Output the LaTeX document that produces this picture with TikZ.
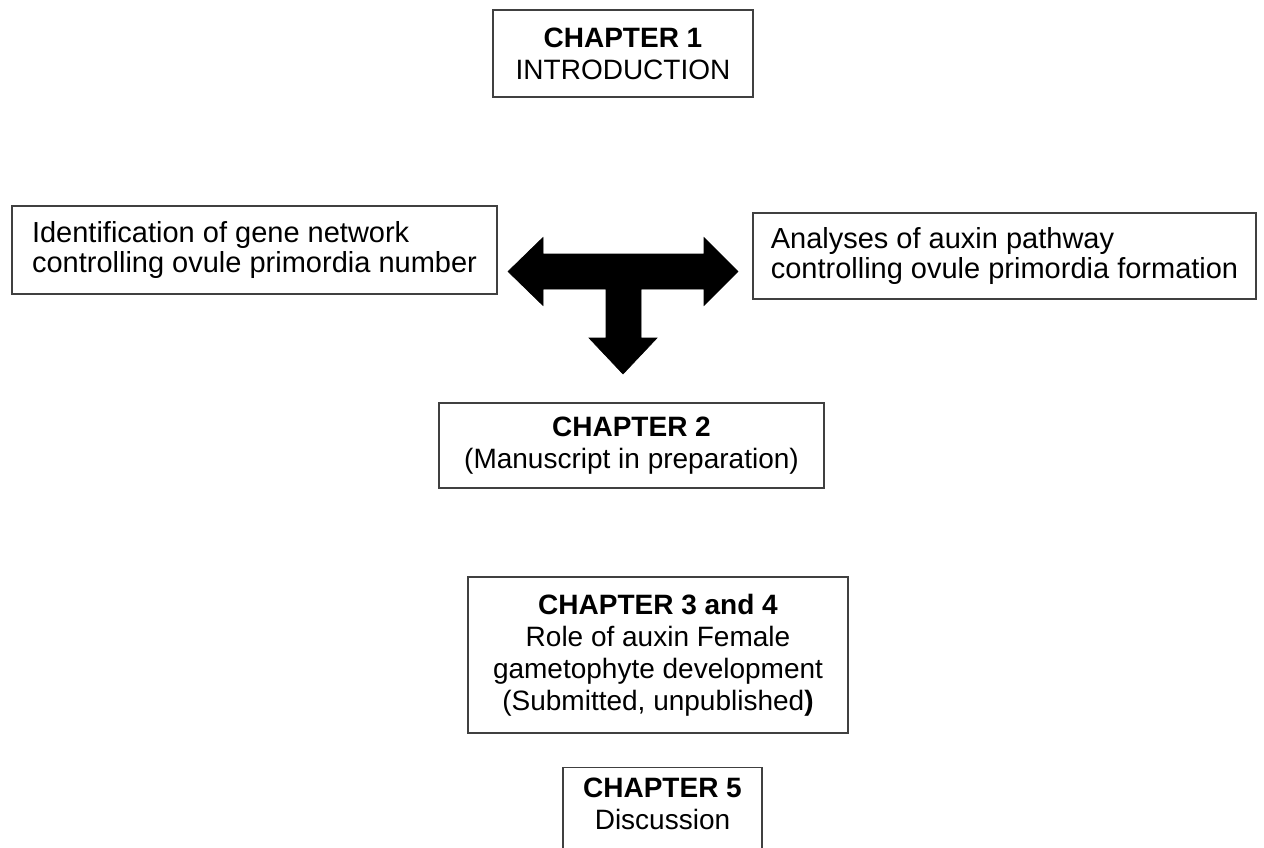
\documentclass[tikz,border=0pt]{standalone}
\usepackage{fontspec}
\setmainfont{Liberation Sans}
\usetikzlibrary{positioning}

\tikzset{
  chbox/.style={draw=black!75, line width=1.3pt, inner sep=0pt, align=center,
    font=\fontsize{28}{32}\selectfont},
  sidebox/.style={draw=black!75, line width=1.3pt, inner sep=0pt, align=left,
    font=\fontsize{29}{30}\selectfont},
  teearrow/.style={fill=black, draw=black, line width=0.6pt, line join=miter}
}

\begin{document}
\begin{tikzpicture}[x=1pt,y=-1pt]
\useasboundingbox (0,0) rectangle (1264,848);

\node[chbox, minimum width=260, minimum height=87] (ch1) at (623,53.5)
  {\textbf{CHAPTER 1}\\INTRODUCTION};

\node[sidebox, minimum width=485, minimum height=88] (genenet) at (254.5,250)
  {Identification of gene network\\controlling ovule primordia number};
\node[sidebox, minimum width=503, minimum height=86] (auxpath) at (1004.5,256)
  {Analyses of auxin pathway\\controlling ovule primordia formation};

% T shaped block arrow
\coordinate (tee) at (508,271.5);
\fill[teearrow] (tee) -- ++(35,-34) -- ++(0,16.5) -- ++(161,0) -- ++(0,-16.5)
  -- ++(34,34) -- ++(-34,34) -- ++(0,-16.5) -- ++(-63,0) -- ++(0,49)
  -- ++(16,0) -- ++(-34,36) -- ++(-34,-36) -- ++(17,0) -- ++(0,-49)
  -- ++(-63,0) -- ++(0,16.5) -- cycle;

\node[chbox, minimum width=385, minimum height=85] (ch2) at (631.5,445.5)
  {\textbf{CHAPTER 2}\\(Manuscript in preparation)};

\node[chbox, minimum width=380, minimum height=156] (ch34) at (658,655)
  {\textbf{CHAPTER 3 and 4}\\Role of auxin Female\\gametophyte development\\(Submitted, unpublished\textbf{)}};

\node[chbox, minimum width=199, minimum height=120, anchor=north] (ch5) at (662.5,767) {};
\node[chbox, draw=none, below=10pt of ch5.north] (ch5txt)
  {\textbf{CHAPTER 5}\\Discussion};
\end{tikzpicture}
\end{document}
